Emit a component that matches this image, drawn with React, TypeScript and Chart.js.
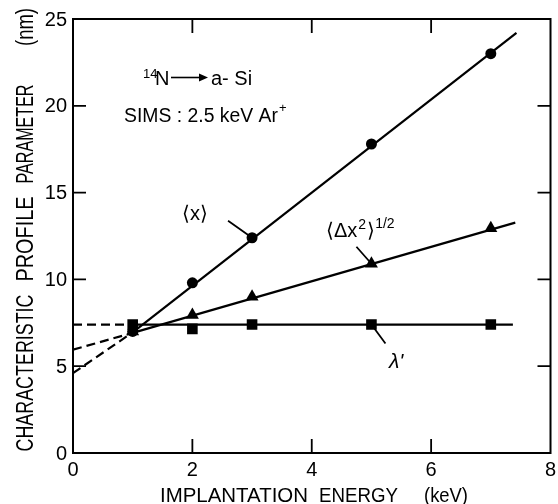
import { useEffect, useRef } from "react";
import { Chart, registerables } from "chart.js";

Chart.register(...registerables);

// Implantation energies (keV) at which profiles were measured
const energies = [1, 2, 3, 5, 7];
// Mean projected range <x> (nm)
const meanRange = [7.0, 9.8, 12.4, 17.8, 23.0];
// Range straggling <Δx²>^1/2 (nm)
const straggling = [7.0, 7.95, 9.0, 10.9, 12.95];
// Exponential decay length λ' (nm)
const decayLength = [7.4, 7.15, 7.4, 7.4, 7.4];

// Straight-line fits; the first segment (0 → 1 keV) is an extrapolation
const meanFitE = [0, 1, 7.43];
const meanFitV = [4.6, 6.95, 24.2];
const stragFitE = [0, 1, 7.41];
const stragFitV = [5.95, 6.92, 13.27];
const decayFitE = [0, 1, 7.37];
const decayFitV = [7.4, 7.4, 7.4];

// Axis ticks
const xTicks = [0, 2, 4, 6, 8];
const yTicks = [0, 5, 10, 15, 20, 25];

const toPoints = (xs: number[], ys: number[]) => xs.map((x, i) => ({ x, y: ys[i] }));

const SANS = '"Liberation Sans", Arial, sans-serif';

const framePlugin = {
  id: "frame",
  beforeDraw(chart: any) {
    const { ctx, width, height } = chart;
    ctx.save();
    ctx.fillStyle = "#fff";
    ctx.fillRect(0, 0, width, height);
    ctx.restore();
  },
  afterDraw(chart: any) {
    const { ctx, chartArea: a } = chart;
    const xs = chart.scales.x;
    const ys = chart.scales.y;
    ctx.save();
    ctx.strokeStyle = "#000";
    ctx.fillStyle = "#000";
    ctx.lineCap = "butt";

    // plot frame
    ctx.lineWidth = 2;
    ctx.strokeRect(a.left, a.top, a.right - a.left, a.bottom - a.top);

    // inward ticks on all four sides
    ctx.lineWidth = 1.8;
    ctx.beginPath();
    xTicks.forEach((v) => {
      if (v === xTicks[0] || v === xTicks[xTicks.length - 1]) return;
      const px = xs.getPixelForValue(v);
      ctx.moveTo(px, a.bottom);
      ctx.lineTo(px, a.bottom - 14);
      ctx.moveTo(px, a.top);
      ctx.lineTo(px, a.top + 14);
    });
    yTicks.forEach((v) => {
      if (v === yTicks[0] || v === yTicks[yTicks.length - 1]) return;
      const py = ys.getPixelForValue(v);
      ctx.moveTo(a.left, py);
      ctx.lineTo(a.left + 13, py);
      ctx.moveTo(a.right, py);
      ctx.lineTo(a.right - 13, py);
    });
    ctx.stroke();

    // tick labels
    ctx.font = `20px ${SANS}`;
    ctx.textAlign = "center";
    ctx.textBaseline = "middle";
    xTicks.forEach((v) => {
      ctx.fillText(String(v), xs.getPixelForValue(v), a.bottom + 17);
    });
    ctx.textAlign = "right";
    yTicks.forEach((v) => {
      ctx.fillText(String(v), a.left - 6, ys.getPixelForValue(v) + 1);
    });

    // x axis title
    ctx.font = `21px ${SANS}`;
    ctx.textAlign = "left";
    ctx.textBaseline = "alphabetic";
    ctx.fillText("IMPLANTATION", 160, 502, 148);
    ctx.fillText("ENERGY", 319, 502, 79);
    ctx.fillText("(keV)", 424, 502, 44);

    // y axis title (rotated), word by word
    ctx.save();
    ctx.translate(33, 0);
    ctx.rotate(-Math.PI / 2);
    ctx.font = `23px ${SANS}`;
    ctx.textAlign = "center";
    ctx.textBaseline = "alphabetic";
    const yWords: [string, number, number][] = [
      ["CHARACTERISTIC", 373, 157],
      ["PROFILE", 239, 85],
      ["PARAMETER", 134, 99],
      ["(nm)", 27, 38],
    ];
    yWords.forEach(([w, c, mw]) => ctx.fillText(w, -c, 0, mw));
    ctx.restore();

    // reaction label: 14N → a-Si
    ctx.textAlign = "left";
    ctx.font = `13px ${SANS}`;
    ctx.fillText("14", 143, 78);
    ctx.font = `20px ${SANS}`;
    ctx.fillText("N", 155, 85);
    ctx.lineWidth = 1.6;
    ctx.beginPath();
    ctx.moveTo(171, 77.5);
    ctx.lineTo(201, 77.5);
    ctx.stroke();
    ctx.beginPath();
    ctx.moveTo(208, 77.5);
    ctx.lineTo(199, 73.5);
    ctx.lineTo(199, 81.5);
    ctx.closePath();
    ctx.fill();
    ctx.fillText("a- Si", 211, 85);

    // analysis conditions
    ctx.font = `20px ${SANS}`;
    ctx.fillText("SIMS : 2.5 keV Ar", 124, 122, 154);
    ctx.font = `13px ${SANS}`;
    ctx.fillText("+", 279, 112);

    // series labels with leader lines
    const p3 = { x: xs.getPixelForValue(energies[2]), y: ys.getPixelForValue(meanRange[2]) };
    const p5s = { x: xs.getPixelForValue(energies[3]), y: ys.getPixelForValue(straggling[3]) };
    const p5l = { x: xs.getPixelForValue(energies[3]), y: ys.getPixelForValue(decayLength[3]) };
    ctx.lineWidth = 1.8;
    ctx.beginPath();
    ctx.moveTo(p3.x - 24, p3.y - 17);
    ctx.lineTo(p3.x, p3.y);
    ctx.moveTo(p5s.x - 15, p5s.y - 17);
    ctx.lineTo(p5s.x, p5s.y);
    ctx.moveTo(p5l.x, p5l.y);
    ctx.lineTo(p5l.x + 14, p5l.y + 19);
    ctx.stroke();

    ctx.font = `20px ${SANS}`;
    ctx.fillText("\u27E8x\u27E9", 182, 220);

    // <Δx²>^1/2
    let cx = 326;
    const base = 237;
    ctx.font = `20px ${SANS}`;
    ctx.fillText("\u27E8\u0394x", cx, base);
    cx += ctx.measureText("\u27E8\u0394x").width + 1;
    ctx.font = `14px ${SANS}`;
    ctx.fillText("2", cx, base - 8);
    cx += ctx.measureText("2").width + 1;
    ctx.font = `20px ${SANS}`;
    ctx.fillText("\u27E9", cx, base);
    cx += ctx.measureText("\u27E9").width;
    ctx.font = `14px ${SANS}`;
    ctx.fillText("1/2", cx, base - 9);

    ctx.font = `italic 21px ${SANS}`;
    ctx.fillText("\u03BB'", 389, 368);

    ctx.restore();
  },
};

export default function App() {
  const ref = useRef<HTMLCanvasElement | null>(null);

  useEffect(() => {
    document.body.style.margin = "0";
    const canvas = ref.current;
    if (!canvas) return;
    const dash = (c: any) => (c.p0DataIndex === 0 ? [9, 5] : []);
    const fitLine = (xs: number[], ys: number[]) => ({
      data: toPoints(xs, ys),
      showLine: true,
      pointRadius: 0,
      borderColor: "#000",
      borderWidth: 2.2,
      segment: { borderDash: dash },
    });
    const marks = (ys: number[], style: string, r: number) => ({
      data: toPoints(energies, ys),
      pointStyle: style,
      pointRadius: r,
      pointBackgroundColor: "#000",
      pointBorderColor: "#000",
      pointBorderWidth: 0,
      showLine: false,
    });
    const chart = new Chart(canvas, {
      type: "scatter",
      data: {
        datasets: [
          marks(meanRange, "circle", 5.5),
          marks(straggling, "triangle", 7.5),
          marks(decayLength, "rect", 7.5),
          fitLine(meanFitE, meanFitV),
          fitLine(stragFitE, stragFitV),
          fitLine(decayFitE, decayFitV),
        ] as any,
      },
      options: {
        animation: false,
        responsive: false,
        devicePixelRatio: 1,
        layout: { padding: { left: 73, top: 19, right: 7, bottom: 51 } },
        plugins: { legend: { display: false }, tooltip: { enabled: false } },
        scales: {
          x: { type: "linear", min: 0, max: 8, display: false },
          y: { type: "linear", min: 0, max: 25, display: false },
        },
      },
      plugins: [framePlugin],
    });
    return () => chart.destroy();
  }, []);

  return (
    <div style={{ width: 558, height: 504 }}>
      <canvas ref={ref} width={558} height={504} />
    </div>
  );
}
